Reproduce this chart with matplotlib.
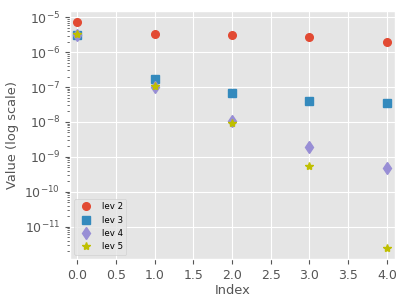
import matplotlib
matplotlib.use("Agg")
import matplotlib.pyplot as plt
import numpy as np

# values
index = [0, 1, 2, 3, 4]
lev2 = [7.2e-6, 3.4e-6, 3.1e-6, 2.7e-6, 1.9e-6]
lev3 = [3.2e-6, 1.73e-7, 6.7e-8, 4.1e-8, 3.6e-8]
lev4 = [3.1e-6, 1.0e-7, 1.09e-8, 1.9e-9, 4.85e-10]
lev5 = [3.4e-6, 1.09e-7, 9.5e-9, 5.4e-10, 2.5e-12]
xticks = np.arange(0, 4.5, 0.5)

plt.style.use('ggplot')
fig = plt.figure(figsize=(4.07, 3.05), dpi=100)
ax = fig.add_axes([0.172, 0.151, 0.7985, 0.813])

ax.plot(index, lev2, 'o', color='#E24A33', ms=5.5, label='lev 2')
ax.plot(index, lev3, 's', color='#348ABD', ms=5.5, label='lev 3')
ax.plot(index, lev4, 'd', color='#988ED5', ms=6, label='lev 4')
ax.plot(index, lev5, '*', color='y', ms=6, label='lev 5')

ax.set_yscale('log')
ax.set_xlim(-0.095, 4.105)
ax.set_xticks(xticks)
ax.set_xlabel('Index', fontsize=9.4, labelpad=2)
ax.set_ylabel('Value (log scale)', fontsize=9.4)
ax.tick_params(labelsize=9)
ax.legend(loc='lower left', fontsize=6.2)

fig.savefig('out.png', dpi=100)
